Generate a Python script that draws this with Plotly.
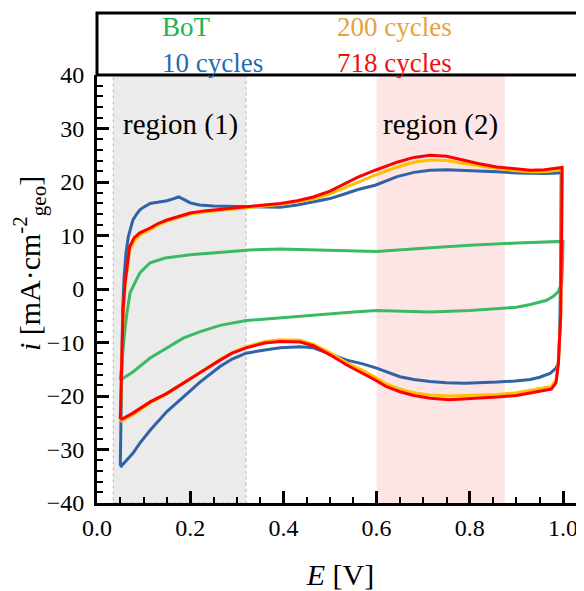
import plotly.graph_objects as go

# ---------------- data ----------------
series_names = ["BoT", "10 cycles", "200 cycles", "718 cycles"]

# BoT
bot_E_up = [0.05, 0.055, 0.06, 0.065, 0.071, 0.077, 0.092, 0.114, 0.146, 0.2, 0.264, 0.328, 0.393, 0.5, 0.6, 0.7, 0.8, 0.9, 0.99, 1.0]
bot_i_up = [-17, -12, -7.5, -4, -0.7, 0.4, 3.0, 4.9, 5.8, 6.4, 6.9, 7.3, 7.5, 7.3, 7.0, 7.6, 8.2, 8.6, 8.9, 8.9]
bot_E_dn = [0.999, 0.997, 0.99, 0.98, 0.965, 0.93, 0.9, 0.858, 0.8, 0.715, 0.6, 0.55, 0.464, 0.393, 0.32, 0.264, 0.22, 0.185, 0.15, 0.114, 0.077, 0.05]
bot_i_dn = [5.0, 1.0, -0.5, -1.3, -2.1, -2.9, -3.4, -3.7, -4.0, -4.3, -4.0, -4.3, -4.9, -5.4, -5.9, -6.8, -8.0, -9.2, -11.0, -12.9, -15.5, -17.0]

# 10 cycles
c10_E_up = [0.05, 0.051, 0.053, 0.055, 0.058, 0.062, 0.067, 0.072, 0.077, 0.085, 0.092, 0.1, 0.114, 0.13, 0.15, 0.165, 0.175, 0.185, 0.2, 0.22, 0.25, 0.3, 0.35, 0.393, 0.43, 0.464, 0.5, 0.536, 0.56, 0.597, 0.644, 0.68, 0.715, 0.75, 0.785, 0.82, 0.858, 0.9, 0.93, 0.96, 0.99, 0.996]
c10_i_up = [-33, -25, -12, -4, 2, 6.5, 9.7, 11.5, 12.9, 14.0, 14.8, 15.3, 16.0, 16.2, 16.5, 16.9, 17.2, 16.8, 16.1, 15.7, 15.5, 15.4, 15.3, 15.3, 15.7, 16.3, 16.9, 17.9, 18.6, 19.4, 21.0, 21.8, 22.2, 22.3, 22.2, 22.1, 21.9, 21.7, 21.6, 21.6, 21.7, 22.0]
c10_E_dn = [0.995, 0.993, 0.99, 0.985, 0.972, 0.95, 0.93, 0.897, 0.858, 0.82, 0.79, 0.75, 0.715, 0.68, 0.65, 0.6, 0.57, 0.536, 0.5, 0.464, 0.436, 0.393, 0.36, 0.32, 0.29, 0.264, 0.221, 0.185, 0.15, 0.114, 0.092, 0.077, 0.06, 0.05]
c10_i_dn = [5.0, -8.0, -13.8, -14.8, -15.8, -16.5, -16.9, -17.2, -17.4, -17.5, -17.6, -17.5, -17.3, -16.9, -16.4, -14.8, -14.0, -13.3, -12.2, -11.0, -10.8, -11.0, -11.4, -12.0, -13.1, -14.5, -17.4, -20.1, -22.9, -26.4, -28.8, -30.7, -32.3, -33.3]

# 200 cycles
c200_E_up = [0.05, 0.051, 0.053, 0.056, 0.06, 0.065, 0.07, 0.08, 0.092, 0.114, 0.13, 0.15, 0.175, 0.2, 0.23, 0.264, 0.32, 0.36, 0.393, 0.43, 0.464, 0.5, 0.536, 0.56, 0.597, 0.644, 0.68, 0.715, 0.75, 0.785, 0.82, 0.858, 0.9, 0.93, 0.96, 0.99, 0.998]
c200_i_up = [-24.7, -20.5, -13, -5, 0.3, 4.2, 7.2, 9.0, 10.1, 11.1, 11.9, 12.7, 13.4, 14.0, 14.4, 14.7, 15.1, 15.5, 15.8, 16.3, 16.8, 17.8, 19.1, 20.1, 21.3, 22.8, 23.7, 24.1, 24.0, 23.5, 23.0, 22.5, 22.1, 21.9, 21.9, 22.2, 22.3]
c200_E_dn = [0.997, 0.995, 0.99, 0.985, 0.975, 0.93, 0.9, 0.858, 0.8, 0.757, 0.715, 0.68, 0.65, 0.62, 0.597, 0.57, 0.536, 0.5, 0.464, 0.436, 0.393, 0.36, 0.32, 0.29, 0.264, 0.22, 0.185, 0.15, 0.114, 0.077, 0.054, 0.05]
c200_i_dn = [10, -5, -13.6, -17.0, -18.2, -19.0, -19.4, -19.7, -19.9, -20.0, -19.8, -19.4, -18.7, -17.7, -16.5, -15.2, -13.8, -11.9, -10.3, -9.6, -9.5, -9.8, -10.8, -11.9, -13.2, -15.6, -17.6, -19.6, -21.3, -23.5, -24.7, -24.8]

# 718 cycles
c718_E_up = [0.05, 0.051, 0.053, 0.056, 0.06, 0.065, 0.07, 0.08, 0.092, 0.114, 0.13, 0.15, 0.175, 0.2, 0.23, 0.264, 0.32, 0.36, 0.393, 0.43, 0.464, 0.5, 0.536, 0.56, 0.597, 0.644, 0.68, 0.715, 0.75, 0.785, 0.82, 0.858, 0.9, 0.93, 0.96, 0.99, 0.998]
c718_i_up = [-24.3, -20, -12, -4, 1, 5, 7.9, 9.6, 10.5, 11.4, 12.2, 12.9, 13.6, 14.2, 14.6, 14.9, 15.3, 15.7, 16.0, 16.5, 17.2, 18.3, 19.8, 20.9, 22.2, 23.7, 24.6, 25.0, 24.8, 24.1, 23.4, 22.8, 22.4, 22.2, 22.3, 22.6, 22.7]
c718_E_dn = [0.997, 0.995, 0.99, 0.985, 0.975, 0.93, 0.9, 0.858, 0.8, 0.757, 0.715, 0.68, 0.65, 0.62, 0.597, 0.57, 0.536, 0.5, 0.464, 0.436, 0.393, 0.36, 0.32, 0.29, 0.264, 0.22, 0.185, 0.15, 0.114, 0.077, 0.054, 0.05]
c718_i_dn = [10, -5, -14.0, -17.5, -18.7, -19.5, -19.9, -20.2, -20.5, -20.7, -20.4, -19.9, -19.2, -18.2, -17.0, -15.7, -14.2, -12.3, -10.6, -9.9, -9.8, -10.1, -11.0, -12.0, -13.3, -15.7, -17.6, -19.5, -21.1, -23.2, -24.3, -24.3]

region_names = ["region (1)", "region (2)"]
region_E = [[0.035, 0.32], [0.6, 0.875]]

x_tickvals = [0.0, 0.2, 0.4, 0.6, 0.8, 1.0]
x_ticktext = ["0.0", "0.2", "0.4", "0.6", "0.8", "1.0"]
y_tickvals = [-40, -30, -20, -10, 0, 10, 20, 30, 40]

x_title = "<i>E</i> [V]"
y_title = "<i>i</i> [mA·cm<sup>-2</sup><sub>geo</sub>]"

# ---------------- styling ----------------
line_colors = ["#3cba63", "#2f63a5", "#ffc000", "#ff0000"]
text_colors = ["#22b14c", "#1f6db2", "#e6a33c", "#f01010"]
FONT = "Liberation Serif"

curves = [
    (bot_E_up + bot_E_dn, bot_i_up + bot_i_dn),
    (c10_E_up + c10_E_dn, c10_i_up + c10_i_dn),
    (c200_E_up + c200_E_dn, c200_i_up + c200_i_dn),
    (c718_E_up + c718_E_dn, c718_i_up + c718_i_dn),
]

fig = go.Figure()
for name, (xs, ys), col in zip(series_names, curves, line_colors):
    fig.add_trace(go.Scatter(x=xs, y=ys, mode="lines", name=name,
                             line=dict(color=col, width=3), showlegend=False))

shapes = [
    dict(type="rect", xref="x", yref="paper", x0=region_E[0][0], x1=region_E[0][1], y0=0, y1=1,
         fillcolor="#ebebeb", line=dict(color="#b5b5b5", width=1, dash="dot"), layer="below"),
    dict(type="rect", xref="x", yref="paper", x0=region_E[1][0], x1=region_E[1][1], y0=0, y1=1,
         fillcolor="#fde5e5", line=dict(width=0), layer="below"),
    # legend box above the plot
    dict(type="rect", xref="paper", yref="paper", x0=0, x1=0.996, y0=1, y1=1.145,
         fillcolor="rgba(0,0,0,0)", line=dict(color="black", width=3)),
]

annotations = []
legend_pos = [(0.129, 1.111), (0.129, 1.028), (0.489, 1.111), (0.489, 1.028)]
for name, col, (px, py) in zip(series_names, text_colors, legend_pos):
    annotations.append(dict(text=name, xref="paper", yref="paper", x=px, y=py,
                            xanchor="left", yanchor="middle", showarrow=False,
                            font=dict(family=FONT, size=27, color=col)))
for rname, cx in zip(region_names, [0.18, 0.736]):
    annotations.append(dict(text=rname, xref="x", yref="y", x=cx, y=30.8,
                            xanchor="center", yanchor="middle", showarrow=False,
                            font=dict(family=FONT, size=29, color="black")))
# y-axis title (placed as rotated text, slightly above the axis centre as in the reference)
annotations.append(dict(text=y_title, xref="paper", yref="paper", x=-0.138, y=0.56,
                        xanchor="center", yanchor="middle", textangle=-90, showarrow=False,
                        font=dict(family=FONT, size=30, color="black")))

# the page body adds an 8px offset, so the figure is 8px smaller than the window
fig.update_layout(
    width=576, height=583,
    margin=dict(l=89, r=0, t=67, b=88),
    paper_bgcolor="white", plot_bgcolor="white",
    shapes=shapes, annotations=annotations,
    font=dict(family=FONT, color="black"),
)
fig.update_xaxes(
    range=[0, 1.045], tickvals=x_tickvals, ticktext=x_ticktext,
    ticks="inside", ticklen=12, tickwidth=3, tickcolor="black",
    minor=dict(dtick=0.05, tick0=0, ticks="inside", ticklen=6, tickwidth=2, tickcolor="black"),
    showline=True, linewidth=3, linecolor="black", showgrid=False, zeroline=False,
    tickfont=dict(family=FONT, size=24, color="black"), ticklabelstandoff=1,
    title=dict(text=x_title, font=dict(family=FONT, size=30, color="black"), standoff=26),
)
fig.update_yaxes(
    range=[-40, 40], tickvals=y_tickvals,
    ticks="inside", ticklen=12, tickwidth=3, tickcolor="black",
    minor=dict(dtick=2, tick0=0, ticks="inside", ticklen=6, tickwidth=2, tickcolor="black"),
    showline=True, linewidth=3, linecolor="black", showgrid=False, zeroline=False,
    tickfont=dict(family=FONT, size=24, color="black"), ticklabelstandoff=5,
)

fig.write_html("out.html")
